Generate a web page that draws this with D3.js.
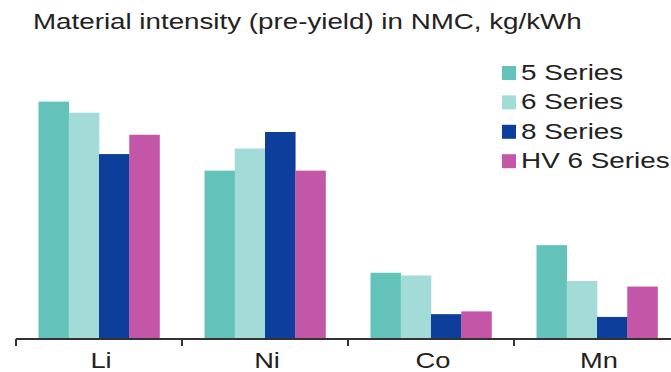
<!DOCTYPE html>
<html>
<head>
<meta charset="utf-8">
<script src="https://cdn.jsdelivr.net/npm/d3@7"></script>
<style>
  html, body { margin: 0; padding: 0; background: #fff; }
  svg { display: block; font-family: Arial, "Liberation Sans", sans-serif; }
</style>
</head>
<body>
<svg id="chart" width="671" height="372"></svg>
<script>
// Material intensity by metal and cathode generation (kg/kWh)
const categories = ["Li", "Ni", "Co", "Mn"];
const seriesNames = ["5 Series", "6 Series", "8 Series", "HV 6 Series"];
const series5 = [0.86, 0.61, 0.24, 0.34];
const series6 = [0.82, 0.69, 0.23, 0.21];
const series8 = [0.67, 0.75, 0.09, 0.08];
const seriesHV6 = [0.74, 0.61, 0.10, 0.19];
const colors = ["#63c2b9", "#a2dbd8", "#0d3e9b", "#c456a8"];
const titleText = "Material intensity (pre-yield) in NMC, kg/kWh";

const seriesValues = [series5, series6, series8, seriesHV6];
const rows = categories.map((c, i) => ({
  category: c,
  values: seriesNames.map((s, j) => ({ series: s, value: seriesValues[j][i] }))
}));

const svg = d3.select("#chart");
const baseY = 339;
const textStretch = 1.24; // wide lettering

const x = d3.scaleBand().domain(categories).range([16, 680]).paddingInner(0).paddingOuter(0);
const xInner = d3.scaleBand().domain(seriesNames)
  .range([22.5, x.bandwidth() - 22.5]).padding(0);
const y = d3.scaleLinear().domain([0, 1]).range([baseY, baseY - 276]);
const color = d3.scaleOrdinal().domain(seriesNames).range(colors);

// Title, stretched to span its line
const title = svg.append("text")
  .attr("x", 0).attr("y", 0)
  .attr("font-size", 22.5)
  .attr("fill", "#222")
  .text(titleText);
const tw = title.node().getComputedTextLength();
title.attr("transform", `translate(33,29) scale(${549 / tw},1)`);

// Bars
const groups = svg.append("g").selectAll("g")
  .data(rows).join("g")
  .attr("transform", d => `translate(${x(d.category)},0)`);

groups.selectAll("rect")
  .data(d => d.values).join("rect")
  .attr("x", d => xInner(d.series))
  .attr("width", xInner.bandwidth() + 0.3)
  .attr("y", d => y(d.value))
  .attr("height", d => baseY - y(d.value))
  .attr("fill", d => color(d.series));

// Category axis: tick marks on band boundaries, labels centred in bands
const axis = svg.append("g").attr("transform", `translate(0,${baseY})`);
axis.append("line")
  .attr("x1", x.range()[0]).attr("x2", 671)
  .attr("y1", 0).attr("y2", 0)
  .attr("stroke", "#333").attr("stroke-width", 2);
axis.selectAll("line.tick")
  .data(categories).join("line")
  .attr("class", "tick")
  .attr("x1", d => x(d)).attr("x2", d => x(d))
  .attr("y1", 0).attr("y2", 7)
  .attr("stroke", "#333").attr("stroke-width", 2);
axis.selectAll("text")
  .data(categories).join("text")
  .attr("transform", d => `translate(${x(d) + x.bandwidth() / 2 + 2},29) scale(${textStretch},1)`)
  .attr("text-anchor", "middle")
  .attr("font-size", 22)
  .attr("fill", "#222")
  .text(d => d);

// Legend
const legend = svg.append("g").attr("transform", "translate(502,0)");
const li = legend.selectAll("g").data(seriesNames).join("g")
  .attr("transform", (d, i) => `translate(0,${80 + i * 29.4})`);
li.append("rect")
  .attr("x", 0).attr("y", -14).attr("width", 14).attr("height", 14)
  .attr("fill", d => color(d));
li.append("text")
  .attr("transform", `translate(19,0) scale(${textStretch},1)`)
  .attr("font-size", 22.5)
  .attr("fill", "#222")
  .text(d => d);
</script>
</body>
</html>
